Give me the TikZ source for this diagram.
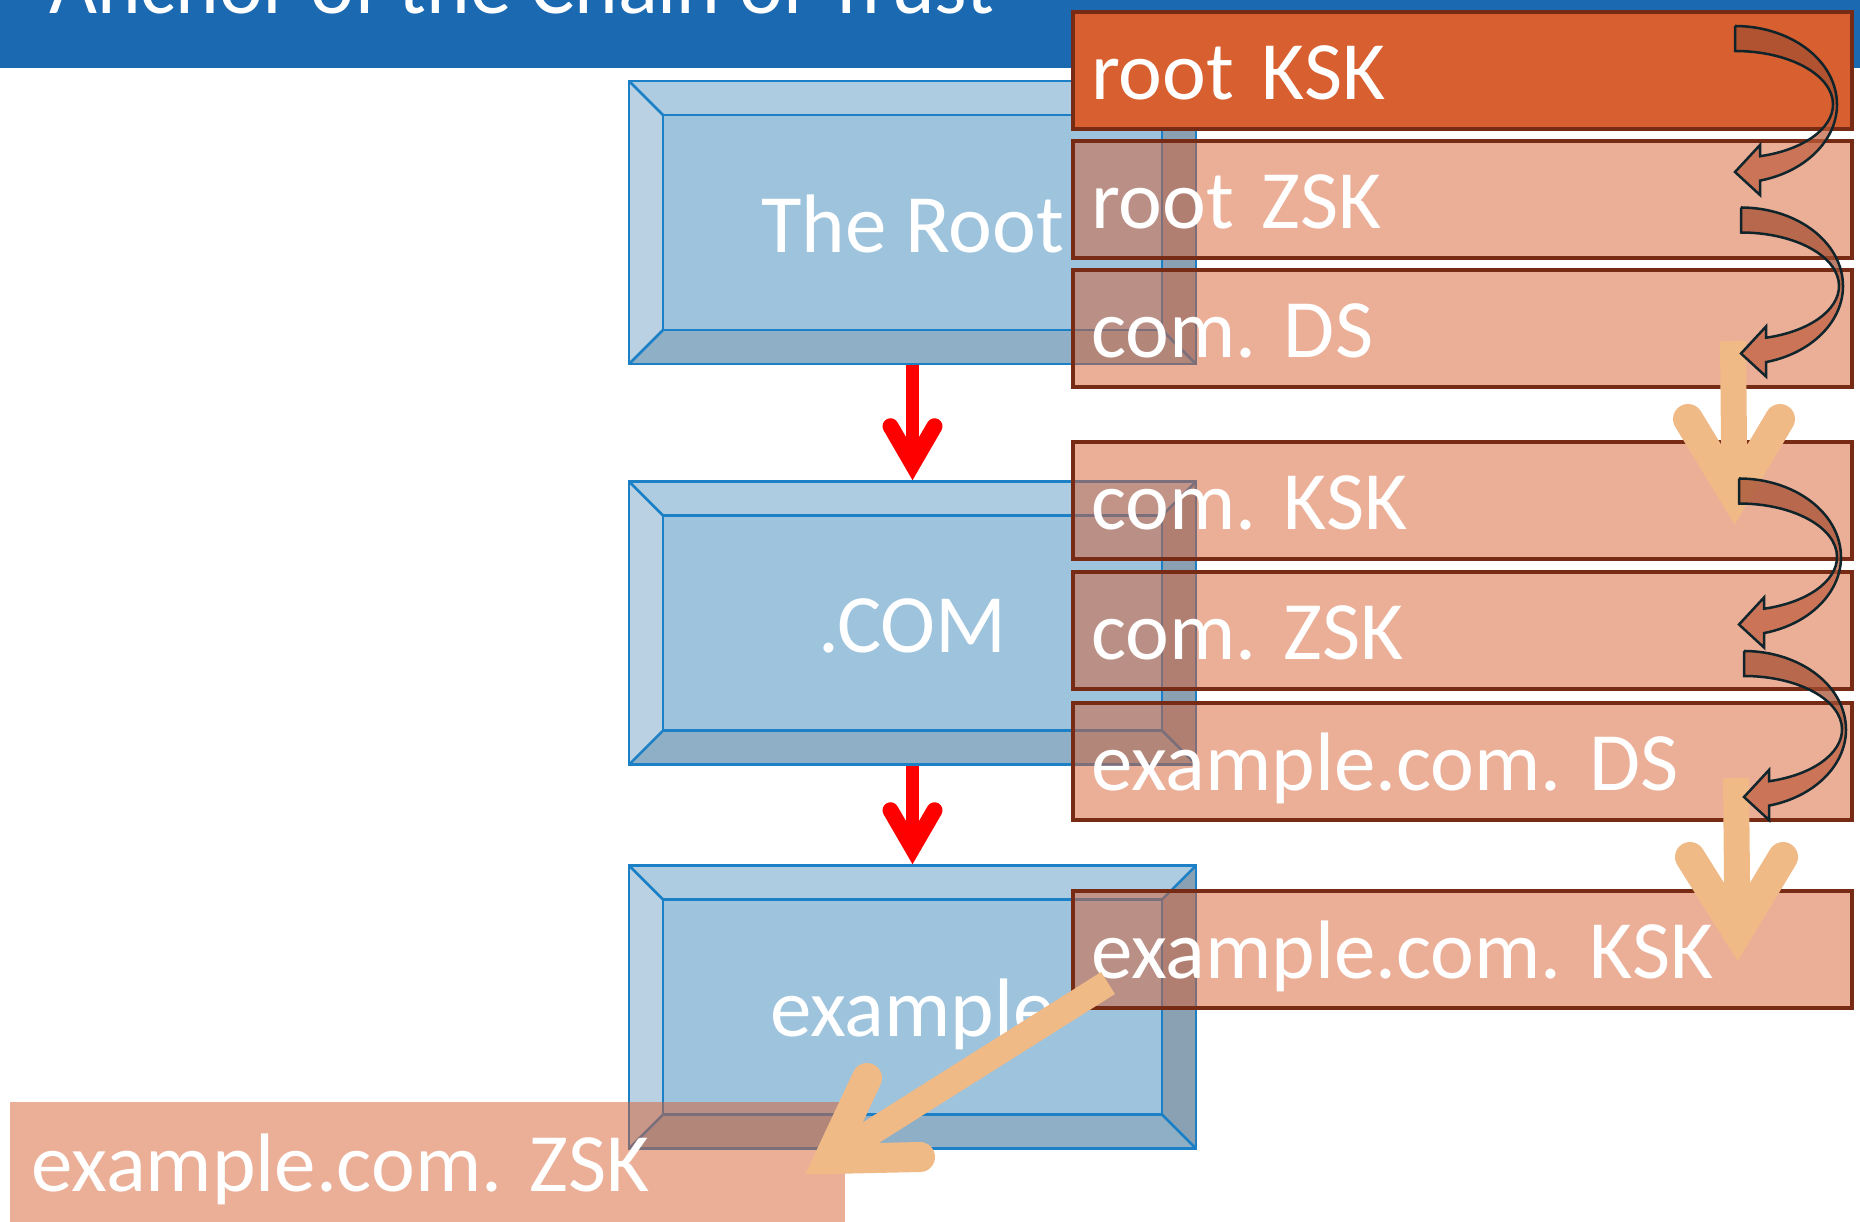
\documentclass[tikz,border=0pt]{standalone}
\usepackage{fontspec}
\setmainfont{Carlito}
\frenchspacing
\definecolor{titleblue}{HTML}{1B69B1}
\definecolor{bevelline}{HTML}{1C80C6}
\definecolor{bevelface}{HTML}{9DC3DD}
\definecolor{beveltop}{HTML}{ADCBE1}
\definecolor{bevelleft}{HTML}{B9D1E2}
\definecolor{bevelbottom}{HTML}{8EAFC6}
\definecolor{bevelright}{HTML}{89A1B3}
\definecolor{keyorange}{HTML}{D85F30}
\definecolor{keyborder}{HTML}{772B14}
\definecolor{paleorange}{HTML}{F0BA87}
\definecolor{bentfill}{HTML}{BF5C3B}
\definecolor{bentblack}{HTML}{10262C}
\tikzstyle{zone} = [
    rectangle,
    draw=bevelline,
    line width=2.5pt,
    inner sep=0pt,
    minimum width=567pt,
    minimum height=283pt,
    text=white,
    font=\fontsize{83}{100}\selectfont,
    text height=59pt,
    text depth=0pt,
    path picture={
        \coordinate (bnw) at (path picture bounding box.north west);
        \coordinate (bne) at (path picture bounding box.north east);
        \coordinate (bsw) at (path picture bounding box.south west);
        \coordinate (bse) at (path picture bounding box.south east);
        \coordinate (inw) at ([shift={(34,34)}]bnw);
        \coordinate (ine) at ([shift={(-34,34)}]bne);
        \coordinate (isw) at ([shift={(34,-34)}]bsw);
        \coordinate (ise) at ([shift={(-34,-34)}]bse);
        \fill[beveltop] (bnw) -- (bne) -- (ine) -- (inw) -- cycle;
        \fill[bevelleft] (bnw) -- (inw) -- (isw) -- (bsw) -- cycle;
        \fill[bevelbottom] (bsw) -- (isw) -- (ise) -- (bse) -- cycle;
        \fill[bevelright] (bne) -- (ine) -- (ise) -- (bse) -- cycle;
        \draw[bevelline, fill=bevelface] (inw) rectangle (ise);
        \draw[bevelline] (bnw) -- (inw) (bne) -- (ine) (bsw) -- (isw) (bse) -- (ise);
    }
]
\tikzstyle{keybox} = [
    rectangle,
    draw=keyborder,
    line width=4pt,
    fill=keyorange,
    fill opacity=0.5,
    text opacity=1,
    text=white,
    font=\fontsize{83}{100}\selectfont,
    align=left,
    text width=743pt,
    inner xsep=18pt, % text starts just inside the border
    inner ysep=0pt,
    minimum height=117pt,
    text height=58pt,
    text depth=0pt
]
\tikzstyle{anchorkey} = [keybox, fill opacity=1]
\tikzstyle{loosekey} = [keybox, draw=none, text width=791pt, inner xsep=22pt, minimum height=121pt]
\tikzstyle{redshaft} = [draw=red, line width=13pt]
\tikzstyle{redhead} = [draw=red, line width=16pt, line cap=round, line join=miter]
\tikzstyle{paleshaft} = [draw=paleorange, line width=26pt]
\tikzstyle{palehead} = [draw=paleorange, line width=30pt, line cap=round, line join=miter]
\tikzstyle{bentline} = [draw=bentblack, line width=2.5pt, fill=bentfill, fill opacity=0.7]
\tikzset{
    bentarrow/.pic={
        \draw[bentline] (0,-78.5) -- (0,-53.5)
            arc[start angle=-90, end angle=75.2, x radius=98, y radius=53.5]
            -- (25,40.5) -- (0,67.5) -- (25,90.5) -- (25,76.1)
            arc[start angle=75.8, end angle=-90, x radius=102, y radius=78.5]
            -- cycle;
        % darker back half of the band
        \fill[black, opacity=0.1] (0,-78.5)
            arc[start angle=-90, end angle=0, x radius=102, y radius=78.5]
            -- (98,0)
            arc[start angle=0, end angle=-90, x radius=98, y radius=53.5]
            -- cycle;
    }
}
\begin{document}
\begin{tikzpicture}[x=1pt, y=-1pt]
\useasboundingbox (0,0) rectangle (1860,1221);
\clip (0,0) rectangle (1860,1221);

\fill[titleblue] (0,0) rectangle (1860,68);
\node[anchor=base west, inner sep=0pt, text=white, font=\fontsize{83}{100}\selectfont] (title) at (49,13) {Anchor of the Chain of Trust};

\node[zone] (root) at (912.5,222.5) {The Root};
\node[zone] (com) at (912.5,623) {.COM};
\node[zone] (exa) at (912.5,1007) {example};

\draw[redshaft] (root.south) -- ([shift={(0,-16)}]com.north);
\draw[redhead] ([shift={(-22,-54)}]com.north) -- ([shift={(0,-16)}]com.north) -- ([shift={(22,-54)}]com.north);
\draw[redshaft] (com.south) -- ([shift={(0,-16)}]exa.north);
\draw[redhead] ([shift={(-22,-54)}]exa.north) -- ([shift={(0,-16)}]exa.north) -- ([shift={(22,-54)}]exa.north);

\node[anchorkey] (rootksk) at (1462.5,70) {root KSK};
\node[keybox] (rootzsk) at (1462.5,199.5) {root ZSK};
\node[keybox] (comds) at (1462.5,328) {com. DS};
\node[keybox] (comksk) at (1462.5,500.5) {com. KSK};
\node[keybox] (comzsk) at (1462.5,630.5) {com. ZSK};
\node[keybox] (exads) at (1462.5,761.5) {example.com. DS};
\node[keybox] (exaksk) at (1462.5,949.5) {example.com. KSK};
\node[loosekey] (exazsk) at (427,1162.5) {example.com. ZSK};

% DS record points down to the next KSK
\coordinate (comfoot) at (1733,341);
\coordinate (comtip) at (1734.5,495.5);
\coordinate (comarml) at (1688,419);
\coordinate (comarmr) at (1780,419);
\coordinate (exafoot) at (1736,778);
\coordinate (exatip) at (1737.5,932.5);
\coordinate (exaarml) at (1690,857);
\coordinate (exaarmr) at (1783,857);
\coordinate (zskfoot) at (1108,983);
\coordinate (zsktip) at (829,1159);
\coordinate (zskarml) at (867,1078);
\coordinate (zskarmr) at (920,1157);
\draw[paleshaft] (comfoot) -- (comtip);
\draw[palehead] (comarml) -- (comtip) -- (comarmr);
\draw[paleshaft] (exafoot) -- (exatip);
\draw[palehead] (exaarml) -- (exatip) -- (exaarmr);
\draw[paleshaft] (zskfoot) -- (zsktip);
\draw[palehead] (zskarml) -- (zsktip) -- (zskarmr);

\pic at ([shift={(-119,34.5)}]rootksk.east) {bentarrow};
\pic at ([shift={(-113,86.5)}]rootzsk.east) {bentarrow};
\pic at ([shift={(-115,56.5)}]comksk.east) {bentarrow};
\pic at ([shift={(-110,99)}]comzsk.east) {bentarrow};
\end{tikzpicture}
\end{document}
